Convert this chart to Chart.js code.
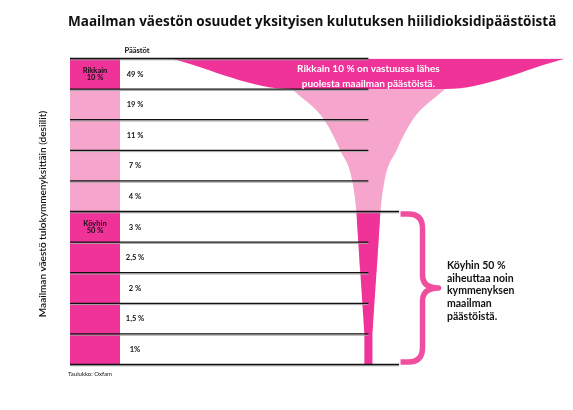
<!DOCTYPE html>
<html><head><meta charset="utf-8">
<script src="https://cdn.jsdelivr.net/npm/chart.js@4.4.1/dist/chart.umd.min.js"></script>
<style>html,body{margin:0;padding:0;background:#fff}#wrap{position:relative;width:573px;height:410px}</style>
</head><body><div id="wrap"><canvas id="c"></canvas></div>
<script>
// ---- data ----
const chartTitle = 'Maailman väestön osuudet yksityisen kulutuksen hiilidioksidipäästöistä';
const yAxisTitle = 'Maailman väestö tulokymmenyksittäin (desiilit)';
const valueColumnTitle = 'Päästöt';
const decileNames = [['Rikkain', '10 %'], [], [], [], [], ['Köyhin', '50 %'], [], [], [], []];
const decileGroups = ['rich', 'middle', 'middle', 'middle', 'middle', 'poor', 'poor', 'poor', 'poor', 'poor'];
const emissionShares = [49, 19, 11, 7, 4, 3, 2.5, 2, 1.5, 1];
const emissionLabels = ['49 %', '19 %', '11 %', '7 %', '4 %', '3 %', '2,5 %', '2 %', '1,5 %', '1%'];
const richNote = ['Rikkain 10 % on vastuussa lähes', 'puolesta maailman päästöistä.'];
const poorNote = ['Köyhin 50 %', 'aiheuttaa noin', 'kymmenyksen', 'maailman', 'päästöistä.'];
const sourceNote = 'Taulukko: Oxfam';

// ---- styles ----
const HOT = '#EF3399';
const LIGHT = '#F6A6CD';
const BRACE = '#F04FA0';
const X_MIN = -37, X_MAX = 25, COL_END = -30.8, LONG_LINE_END = 3.8;

// funnel bands: each outline runs down the left edge, then up the right edge;
// the edge at the top of decile k is half of that decile's emission share on each side.
function band(first, last, closeAtBottom) {
  const left = [], right = [];
  for (let k = first; k <= last; k++) {
    left.push({x: -emissionShares[k] / 2, y: k});
    right.unshift({x: emissionShares[k] / 2, y: k});
  }
  if (closeAtBottom) {
    const v = emissionShares[last];
    left.push({x: -v / 2, y: last + 1});
    right.unshift({x: v / 2, y: last + 1});
  }
  return left.concat(right);
}
const richBand = band(0, 1, false);     // top decile
const middleBand = band(1, 7, false);   // deciles 2-5 (continues under the poor band for a smooth neck)
const poorBand = band(5, 9, true);      // poorest 50 %

const decor = {
  id: 'decor',
  beforeDatasetsDraw(chart) {
    const {ctx, scales: {x, y}} = chart;
    const x0 = x.getPixelForValue(X_MIN), x1 = x.getPixelForValue(COL_END);
    ctx.save();
    decileGroups.forEach((g, i) => {
      const t = y.getPixelForValue(i), b = y.getPixelForValue(i + 1);
      ctx.fillStyle = g === 'middle' ? LIGHT : HOT;
      ctx.fillRect(x0, t, x1 - x0, b - t);
    });
    ctx.restore();
  },
  afterDatasetsDraw(chart) {
    const {ctx, scales: {x, y}} = chart;
    const x0 = x.getPixelForValue(X_MIN);
    ctx.save();
    // row lines
    for (let k = 0; k <= decileGroups.length; k++) {
      const yy = y.getPixelForValue(k);
      const xe = (k === 5 || k === 10) ? x.getPixelForValue(LONG_LINE_END) : x.getPixelForValue(0);
      ctx.strokeStyle = '#a3a3a3'; ctx.lineWidth = 1;
      ctx.beginPath(); ctx.moveTo(x0, yy + 1.3); ctx.lineTo(xe, yy + 1.3); ctx.stroke();
      ctx.strokeStyle = '#111'; ctx.lineWidth = 1.3;
      ctx.beginPath(); ctx.moveTo(x0, yy); ctx.lineTo(xe, yy); ctx.stroke();
    }
    // brace for poorest 50 %
    const yT = y.getPixelForValue(5), yB = y.getPixelForValue(10), yM = (yT + yB) / 2;
    const bx0 = x.getPixelForValue(LONG_LINE_END) + 1.5;
    const bxV = bx0 + 22, bxTip = bx0 + 38;
    ctx.strokeStyle = BRACE; ctx.lineWidth = 5.5; ctx.lineCap = 'butt'; ctx.lineJoin = 'round';
    ctx.beginPath();
    ctx.moveTo(bx0, yT + 2.5);
    ctx.lineTo(bx0 + 8, yT + 2.5);
    ctx.quadraticCurveTo(bxV, yT + 2.5, bxV, yT + 17);
    ctx.lineTo(bxV, yM - 13);
    ctx.quadraticCurveTo(bxV, yM, bxTip, yM);
    ctx.quadraticCurveTo(bxV, yM, bxV, yM + 13);
    ctx.lineTo(bxV, yB - 17);
    ctx.quadraticCurveTo(bxV, yB - 2.5, bx0 + 8, yB - 2.5);
    ctx.lineTo(bx0, yB - 2.5);
    ctx.stroke();

    // texts
    ctx.textBaseline = 'alphabetic';
    ctx.fillStyle = '#111';
    ctx.textAlign = 'left';
    ctx.font = 'bold 12.5px "Open Sans"';
    const tw = ctx.measureText(chartTitle).width;
    const ts = Math.min(14, 12.5 * 489 / tw);
    ctx.font = 'bold ' + ts.toFixed(2) + 'px "Open Sans"';
    ctx.fillText(chartTitle, 68, 26);

    ctx.textAlign = 'center';
    ctx.font = 'bold 7.5px Lato';
    ctx.fillText(valueColumnTitle, 137, 53);

    const colCenter = (x0 + x.getPixelForValue(COL_END)) / 2;
    decileNames.forEach((lines, i) => {
      if (!lines.length) return;
      const t = y.getPixelForValue(i);
      ctx.font = 'bold 7.5px Lato';
      ctx.fillText(lines[0], colCenter, t + 14.5);
      ctx.fillText(lines[1], colCenter, t + 21);
    });
    ctx.font = 'bold 7.5px Lato';
    emissionLabels.forEach((lab, i) => {
      const c = (y.getPixelForValue(i) + y.getPixelForValue(i + 1)) / 2;
      ctx.fillText(lab, 135, c + 2.7);
    });

    // white note inside the funnel top
    ctx.fillStyle = '#fff';
    ctx.font = 'bold 10px Lato';
    const cx = x.getPixelForValue(0);
    ctx.fillText(richNote[0], cx, 72);
    ctx.fillText(richNote[1], cx, 87);

    // brace note
    ctx.fillStyle = '#111';
    ctx.textAlign = 'left';
    ctx.font = 'bold 10.5px Lato';
    poorNote.forEach((l, i) => ctx.fillText(l, 447, 269 + i * 12.7));

    // source
    ctx.font = '6px Lato';
    ctx.fillText(sourceNote, 68, 376);

    // y axis title
    ctx.save();
    ctx.translate(46, 214);
    ctx.rotate(-Math.PI / 2);
    ctx.textAlign = 'center';
    ctx.font = '600 10px Lato';
    ctx.fillText(yAxisTitle, 0, 0);
    ctx.restore();

    ctx.restore();
  }
};

const bandStyle = {borderWidth: 0, borderColor: 'rgba(0,0,0,0)', pointRadius: 0, pointHoverRadius: 0};

// dataset 0 is painted last (on top)
new Chart(document.getElementById('c'), {
  type: 'line',
  data: {
    datasets: [
      Object.assign({label: 'Rikkain 10 %', data: richBand, backgroundColor: HOT,
        fill: {value: 0}, cubicInterpolationMode: 'monotone'}, bandStyle),
      Object.assign({label: 'Köyhin 50 %', data: poorBand, backgroundColor: HOT,
        fill: {value: 5}, tension: 0}, bandStyle),
      Object.assign({label: 'Desiilit 2-5', data: middleBand, backgroundColor: LIGHT,
        fill: {value: 1}, cubicInterpolationMode: 'monotone'}, bandStyle)
    ]
  },
  options: {
    responsive: true,
    maintainAspectRatio: false,
    animation: false,
    layout: {padding: {left: 70, right: 3, top: 58.5, bottom: 45.5}},
    scales: {
      x: {type: 'linear', min: X_MIN, max: X_MAX, display: false},
      y: {type: 'linear', min: 0, max: 10, reverse: true, display: false}
    },
    plugins: {legend: {display: false}, tooltip: {enabled: false}, title: {display: false}}
  },
  plugins: [decor]
});
</script></body></html>
